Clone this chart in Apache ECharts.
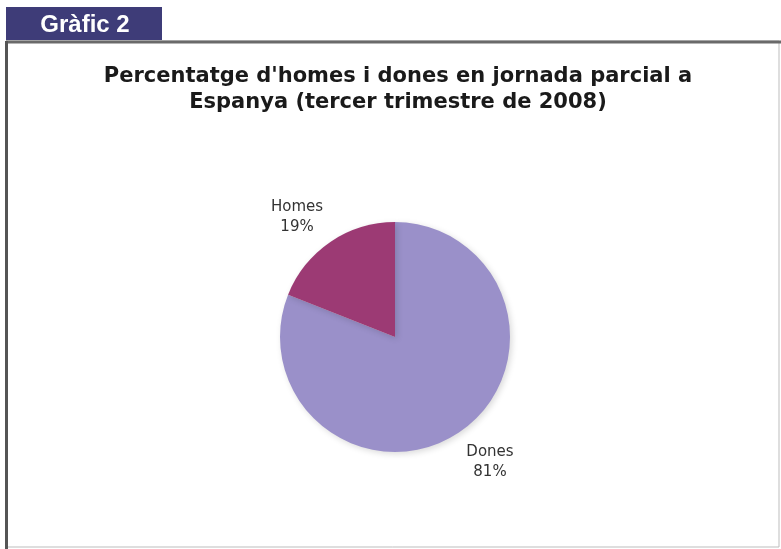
<!DOCTYPE html>
<html><head><meta charset="utf-8">
<script src="https://cdn.jsdelivr.net/npm/echarts@6/dist/echarts.min.js"></script>
<style>html,body{margin:0;padding:0;background:#fff}#c{width:781px;height:549px}</style>
</head><body><div id="c"></div>
<script>
var categories = ['Dones', 'Homes'];
var values = [81, 19];
var colors = ['#9a90c9', '#9c3a74'];

var center = [395, 337];
var radius = 115;
var total = values.reduce(function (a, b) { return a + b; }, 0);
var midAngles = [];
(function () {
  var acc = 0;
  for (var i = 0; i < values.length; i++) {
    var mid = 90 - (acc + values[i] / 2) / total * 360;
    midAngles.push(mid);
    acc += values[i];
  }
})();

var chart = echarts.init(document.getElementById('c'));
chart.setOption({
  backgroundColor: '#ffffff',
  animation: false,
  title: {
    text: "Percentatge d'homes i dones en jornada parcial a\nEspanya (tercer trimestre de 2008)",
    left: 393, top: 59, textAlign: 'center',
    textStyle: {fontFamily: 'DejaVu Sans', fontWeight: 'bold', fontSize: 21, color: '#1a1a1a', lineHeight: 26}
  },
  graphic: [
    {type: 'rect', shape: {x: 6, y: 41, width: 773, height: 506}, style: {fill: '#fff', stroke: '#bdbdbd', lineWidth: 1}, z: -10},
    {type: 'line', shape: {x1: 6, y1: 42, x2: 781, y2: 42}, style: {stroke: '#6a6a6a', lineWidth: 3}, z: 5},
    {type: 'line', shape: {x1: 6.5, y1: 41, x2: 6.5, y2: 549}, style: {stroke: '#555', lineWidth: 3}, z: 5},
    {type: 'rect', shape: {x: 6, y: 7, width: 156, height: 33}, style: {fill: '#3e3c78'}, z: 6},
    {type: 'text', x: 85, y: 25, style: {text: 'Gràfic 2', fill: '#fff', font: 'bold 24px "Liberation Sans"', align: 'center', verticalAlign: 'middle'}, z: 7}
  ],
  series: [{
    type: 'pie',
    center: center,
    radius: radius,
    startAngle: 90,
    clockwise: true,
    data: categories.map(function (c, i) { return {name: c, value: values[i], itemStyle: {color: colors[i]}}; }),
    itemStyle: {shadowBlur: 6, shadowColor: 'rgba(0,0,0,0.15)', shadowOffsetX: 2, shadowOffsetY: 2},
    label: {
      show: true, position: 'outside',
      formatter: function (p) { return p.name + '\n' + Math.round(p.percent) + '%'; },
      fontFamily: 'DejaVu Sans', fontSize: 15, color: '#333', lineHeight: 20
    },
    labelLine: {show: false, length: 30, length2: 0},
    labelLayout: function (params) {
      var a = (midAngles[params.dataIndex] + 4) * Math.PI / 180;
      var d = radius + 41;
      return {
        x: center[0] + d * Math.cos(a) - 1.5,
        y: center[1] - d * Math.sin(a) + 3,
        align: 'center',
        verticalAlign: 'middle'
      };
    },
    emphasis: {disabled: true}
  }]
});
</script></body></html>
